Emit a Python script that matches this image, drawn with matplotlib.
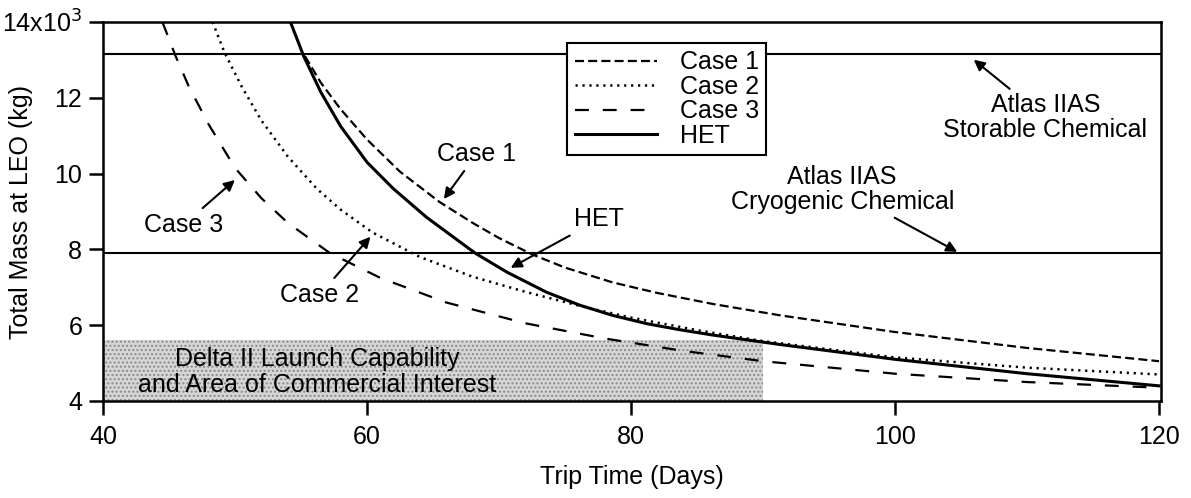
import numpy as np
import matplotlib.pyplot as plt
from matplotlib.ticker import FuncFormatter

plt.rcParams['font.family'] = ['Liberation Sans Narrow', 'Liberation Sans', 'DejaVu Sans']
plt.rcParams['mathtext.fontset'] = 'custom'
plt.rcParams['mathtext.rm'] = 'Liberation Sans Narrow'
plt.rcParams['lines.scale_dashes'] = False

# data (trip time in days, mass in kg)
case1_x = [55.3, 56.5, 58, 60, 62.5, 65.5, 68, 70, 72.5, 75, 78.6, 82, 86.2, 91.3, 100, 110, 120]
case1_y = [13100, 12400, 11700, 10900, 10050, 9250, 8700, 8300, 7870, 7520, 7130, 6850, 6560, 6260, 5820, 5400, 5050]

case2_x = [48.3, 49.2, 50.5, 52, 54, 56.2, 58, 60.4, 64, 68, 72, 76, 80, 85, 90, 100, 110, 120]
case2_y = [14000, 13200, 12300, 11400, 10450, 9600, 9050, 8450, 7800, 7280, 6880, 6520, 6200, 5870, 5580, 5150, 4880, 4700]

case3_x = [44.5, 45.5, 46.5, 48, 50, 52, 54, 57.2, 61, 66, 72, 78, 84, 90, 100, 110, 120]
case3_y = [14000, 13100, 12300, 11300, 10150, 9350, 8700, 7900, 7250, 6600, 6050, 5650, 5320, 5050, 4720, 4500, 4350]

het_x = [54.2, 55.2, 56.5, 58, 60, 62, 64.5, 68.2, 70.6, 73.6, 76.1, 78.6, 81.2, 83.7, 86.2, 91.3, 100, 110, 120]
het_y = [14000, 13100, 12150, 11250, 10300, 9600, 8850, 7900, 7400, 6870, 6530, 6260, 6040, 5880, 5740, 5490, 5100, 4720, 4400]

storable_mass = 13150
cryogenic_mass = 7900

delta_x = [40, 90]
delta_top = 5600

x_ticks = [40, 60, 80, 100, 120]
y_ticks = [4000, 6000, 8000, 10000, 12000, 14000]

fs = 18

fig = plt.figure(figsize=(11.91, 4.98), dpi=100)
ax = fig.add_axes([103 / 1191, 1 - 401 / 498, 1058 / 1191, 379 / 498])

# shaded Delta II region
ax.fill_between(delta_x, 4000, delta_top, facecolor='#d6d6d6', edgecolor='#8a8a8a',
                hatch='....', linewidth=0, zorder=1)

ax.axhline(storable_mass, color='black', lw=1.5, zorder=2)
ax.axhline(cryogenic_mass, color='black', lw=1.5, zorder=2)

ax.plot(case1_x, case1_y, color='black', lw=1.6, dashes=(6.5, 3), label='Case 1', zorder=3)
ax.plot(case2_x, case2_y, color='black', lw=1.8, dashes=(1.6, 3.4), label='Case 2', zorder=3)
ax.plot(case3_x, case3_y, color='black', lw=1.6, dashes=(10, 10), label='Case 3', zorder=3)
ax.plot(het_x, het_y, color='black', lw=2.2, label='HET', zorder=4)

ax.set_xlim(40, 120.15)
ax.set_ylim(4000, 14000)
ax.set_xticks(x_ticks)
ax.set_yticks(y_ticks)


def ylab(v, pos):
    if v >= 14000:
        return '14x10$^{3}$'
    return f'{v / 1000:g}'


ax.yaxis.set_major_formatter(FuncFormatter(ylab))
ax.tick_params(direction='out', length=10, width=1.8, labelsize=fs)
ax.tick_params(axis='x', pad=7)
ax.tick_params(axis='y', pad=5)
for s in ax.spines.values():
    s.set_linewidth(1.8)

ax.set_xlabel('Trip Time (Days)', fontsize=fs, labelpad=12)
ax.set_ylabel('Total Mass at LEO (kg)', fontsize=fs)
ax.yaxis.set_label_coords(-0.066, 0.5)

leg = ax.legend(loc='upper left', bbox_to_anchor=(0.4386, 0.945), fontsize=fs,
                frameon=True, fancybox=False, edgecolor='black', framealpha=1,
                handlelength=3.3, handletextpad=0.9, labelspacing=0.02,
                borderpad=0.3, borderaxespad=0)
leg.get_frame().set_linewidth(1.5)

arrow = dict(arrowstyle='-|>', color='black', lw=1.5, mutation_scale=16)
ax.annotate('Case 1', xy=(65.7, 9270), xytext=(68.3, 10520), fontsize=fs,
            ha='center', va='center', arrowprops=arrow)
ax.annotate('HET', xy=(70.7, 7480), xytext=(77.6, 8790), fontsize=fs,
            ha='center', va='center', arrowprops=arrow)
ax.annotate('Case 3', xy=(50.15, 9880), xytext=(46.1, 8650), fontsize=fs,
            ha='center', va='center', arrowprops=arrow)
ax.annotate('Case 2', xy=(60.4, 8390), xytext=(56.4, 6800), fontsize=fs,
            ha='center', va='center', arrowprops=arrow)
ax.annotate('Atlas IIAS\nStorable Chemical', xy=(105.8, 13050), xytext=(111.4, 11470),
            fontsize=fs, ha='center', va='center', linespacing=1.05, arrowprops=arrow)
ax.annotate('Atlas IIAS\nCryogenic Chemical', xy=(104.9, 7900), xytext=(96, 9590),
            fontsize=fs, ha='center', va='center', linespacing=1.05, arrowprops=arrow)

ax.text(56.2, 4760, 'Delta II Launch Capability\nand Area of Commercial Interest',
        fontsize=fs, ha='center', va='center', linespacing=1.1, zorder=2)

fig.savefig('out.png', dpi=100)
